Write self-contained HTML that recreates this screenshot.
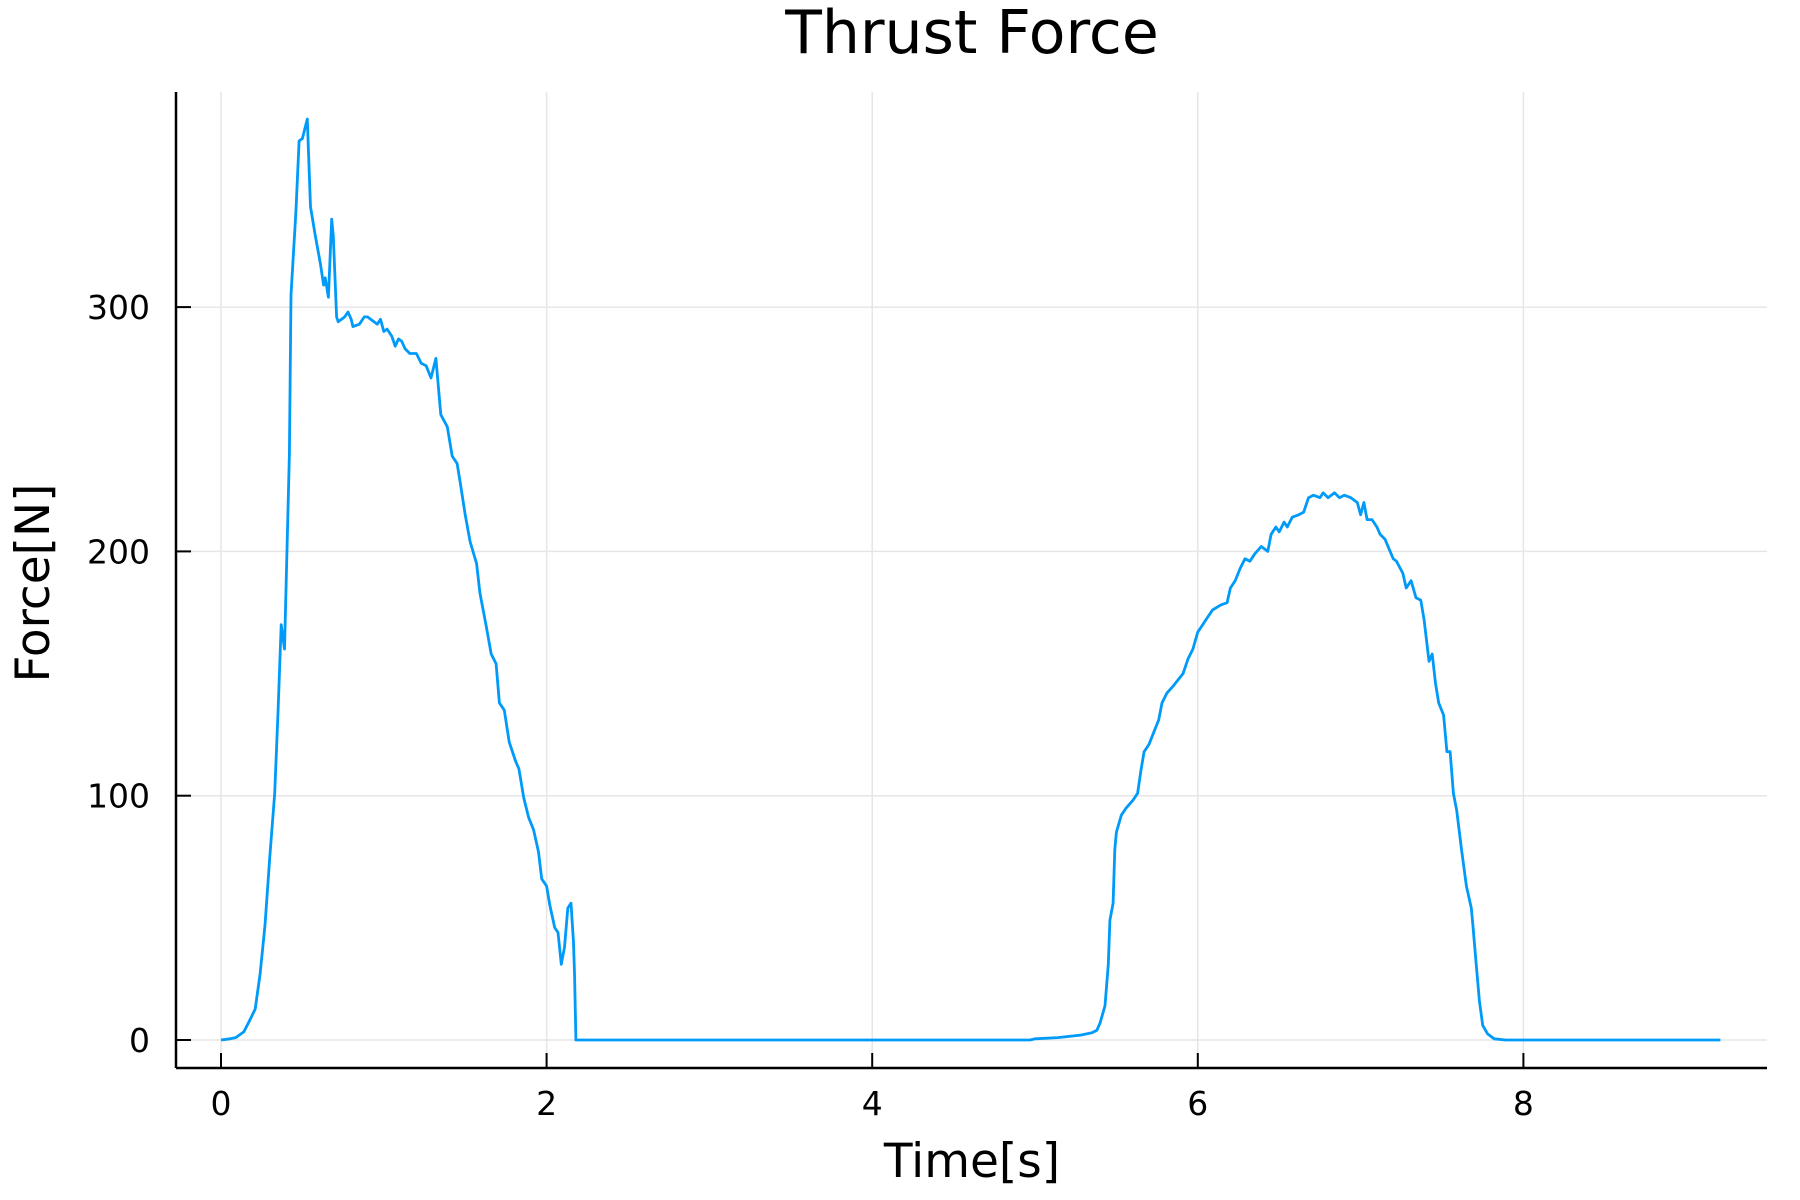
<!DOCTYPE html>
<html><head><meta charset="utf-8"><style>
html,body{margin:0;padding:0;background:#fff}
svg{display:block;font-family:"DejaVu Sans","Liberation Sans",sans-serif}
</style></head><body>
<svg id="chart" width="1800" height="1200" viewBox="0 0 1800 1200" xmlns="http://www.w3.org/2000/svg">
<rect width="1800" height="1200" fill="#fff"/>
<text x="972" y="53" font-size="60" text-anchor="middle">Thrust Force</text>
<text x="972" y="1177" font-size="47" text-anchor="middle">Time[s]</text>
<text transform="translate(49,583) rotate(-90)" font-size="47" text-anchor="middle">Force[N]</text>
<g id="grid"></g><g id="axes"></g><g id="series"></g>
</svg>
<script>
const times=[0,0.056,0.09,0.14,0.18,0.21,0.24,0.27,0.30,0.33,0.35,0.37,0.39,0.40,0.42,0.43,0.46,0.48,0.50,0.53,0.55,0.58,0.61,0.63,0.64,0.66,0.68,0.69,0.71,0.72,0.76,0.78,0.80,0.81,0.85,0.88,0.90,0.94,0.96,0.98,1.0,1.02,1.05,1.07,1.09,1.11,1.13,1.16,1.20,1.23,1.26,1.29,1.32,1.35,1.39,1.42,1.45,1.47,1.50,1.53,1.57,1.59,1.63,1.66,1.69,1.71,1.74,1.77,1.81,1.83,1.86,1.89,1.92,1.95,1.97,2.0,2.02,2.05,2.07,2.09,2.11,2.13,2.15,2.165,2.172,2.18,4.97,5.0,5.14,5.28,5.35,5.38,5.40,5.43,5.45,5.46,5.48,5.49,5.50,5.53,5.56,5.60,5.63,5.65,5.67,5.70,5.73,5.76,5.78,5.81,5.85,5.91,5.94,5.97,6.0,6.02,6.05,6.09,6.14,6.18,6.20,6.23,6.26,6.29,6.32,6.35,6.39,6.43,6.45,6.48,6.50,6.53,6.55,6.58,6.62,6.65,6.68,6.71,6.75,6.77,6.80,6.84,6.87,6.90,6.94,6.98,7.0,7.02,7.04,7.07,7.10,7.12,7.15,7.20,7.22,7.26,7.28,7.31,7.34,7.37,7.39,7.42,7.44,7.46,7.48,7.51,7.53,7.55,7.57,7.59,7.62,7.65,7.68,7.69,7.71,7.73,7.75,7.78,7.82,7.89,9.21];
const forces=[0,0.5,1,3.3,8.5,12.7,27,47,75,101,134,170,160,186,240,305,339,368,369,377,341,329,318,309,312,304,336,329,296,294,296,298,295,292,293,296,296,294,293,295,290,291,288,284,287,286,283,281,281,277,276,271,279,256,251,239,236,228,215,204,195,183,169,158,154,138,135,122,114,111,99,91,86,77,66,63,55,46,44,31,38,54,56,40,26,0,0,0.5,1,2,3,4,7,14,31,49,56,78,85,92,95,98,101,110,118,121,126,131,138,142,145,150,156,160,167,169,172,176,178,179,185,188,193,197,196,199,202,200,207,210,208,212,210,214,215,216,222,223,222,224,222,224,222,223,222,220,215,220,213,213,210,207,205,197,196,191,185,188,181,180,172,155,158,146,138,133,118,118,101,94,78,63,54,47,31,16,6,2.5,0.5,0,0];
const xTicks=[0,2,4,6,8];
const yTicks=[0,100,200,300];
const NS="http://www.w3.org/2000/svg";
const X0=221,XS=162.8,Y0=1040,YS=2.443;
const L=176,R=1767,T=92,B=1068;
function sx(t){return X0+t*XS;}
function sy(f){return Y0-f*YS;}
function mk(tag,attrs,parent){const e=document.createElementNS(NS,tag);for(const k in attrs)e.setAttribute(k,attrs[k]);parent.appendChild(e);return e;}
const grid=document.getElementById('grid'),axes=document.getElementById('axes'),series=document.getElementById('series');
xTicks.forEach(v=>{
  const g=mk('line',{x1:sx(v),x2:sx(v),y1:T,y2:B,stroke:'#e6e6e6','stroke-width':1.5},grid);
  
  
  const tk=mk('line',{x1:sx(v),x2:sx(v),y1:B,y2:B-15,stroke:'#000','stroke-width':2},axes);
  
  
  const tl=mk('text',{x:sx(v),y:1115,'font-size':33,'text-anchor':'middle'},axes);
  tl.textContent=v;
  
  
});
yTicks.forEach(v=>{
  const g=mk('line',{x1:L,x2:R,y1:sy(v),y2:sy(v),stroke:'#e6e6e6','stroke-width':1.5},grid);
  
  
  const tk=mk('line',{x1:L,x2:L+15,y1:sy(v),y2:sy(v),stroke:'#000','stroke-width':2},axes);
  
  
  const tl=mk('text',{x:150,y:sy(v)+12,'font-size':33,'text-anchor':'end'},axes);
  tl.textContent=v;
  
  
});
const xa=mk('line',{x1:L,x2:R,y1:B,y2:B,stroke:'#000','stroke-width':2.5},axes);


const ya=mk('line',{x1:L,x2:L,y1:T,y2:B,stroke:'#000','stroke-width':2.5},axes);


const pts=times.map((t,i)=>sx(t).toFixed(1)+','+sy(forces[i]).toFixed(1)).join(' ');
const pl=mk('polyline',{points:pts,fill:'none',stroke:'#009af9','stroke-width':2.8,'stroke-linejoin':'round'},series);


</script>
</body></html>
